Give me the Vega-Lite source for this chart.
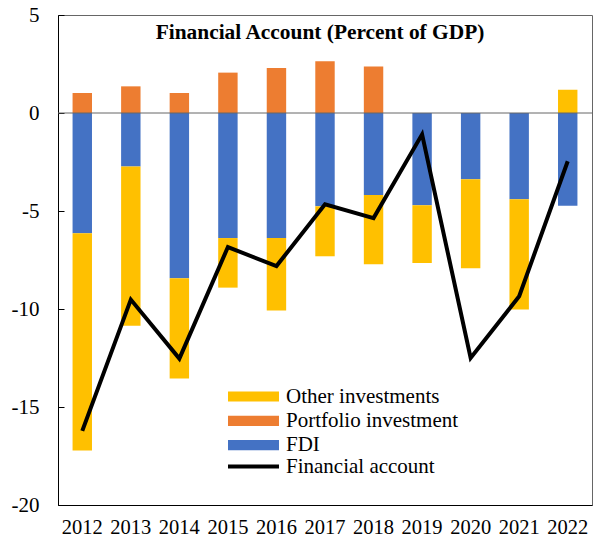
{
  "$schema": "https://vega.github.io/schema/vega-lite/v6.json",
  "width": 534,
  "height": 490,
  "autosize": "none",
  "padding": {"left": 58, "top": 15, "right": 3, "bottom": 41},
  "background": "white",
  "title": {
    "text": "Financial Account (Percent of GDP)",
    "font": "Liberation Serif",
    "fontSize": 21.4,
    "fontWeight": "bold",
    "color": "black",
    "anchor": "middle",
    "baseline": "top",
    "offset": -39,
    "dx": -5
  },
  "config": {
    "view": {"stroke": "#666666", "strokeWidth": 1},
    "font": "Liberation Serif"
  },
  "datasets": {
    "bars": [
      {"year": "2012", "series": "FDI", "value": -6.14},
      {"year": "2013", "series": "FDI", "value": -2.73},
      {"year": "2014", "series": "FDI", "value": -8.43},
      {"year": "2015", "series": "FDI", "value": -6.38},
      {"year": "2016", "series": "FDI", "value": -6.38},
      {"year": "2017", "series": "FDI", "value": -4.76},
      {"year": "2018", "series": "FDI", "value": -4.18},
      {"year": "2019", "series": "FDI", "value": -4.71},
      {"year": "2020", "series": "FDI", "value": -3.38},
      {"year": "2021", "series": "FDI", "value": -4.40},
      {"year": "2022", "series": "FDI", "value": -4.73},
      {"year": "2012", "series": "Portfolio investment", "value": 1.02},
      {"year": "2013", "series": "Portfolio investment", "value": 1.36},
      {"year": "2014", "series": "Portfolio investment", "value": 1.02},
      {"year": "2015", "series": "Portfolio investment", "value": 2.06},
      {"year": "2016", "series": "Portfolio investment", "value": 2.30},
      {"year": "2017", "series": "Portfolio investment", "value": 2.64},
      {"year": "2018", "series": "Portfolio investment", "value": 2.37},
      {"year": "2019", "series": "Portfolio investment", "value": 0},
      {"year": "2020", "series": "Portfolio investment", "value": 0},
      {"year": "2021", "series": "Portfolio investment", "value": 0},
      {"year": "2022", "series": "Portfolio investment", "value": 0},
      {"year": "2012", "series": "Other investments", "value": -11.08},
      {"year": "2013", "series": "Other investments", "value": -8.12},
      {"year": "2014", "series": "Other investments", "value": -5.11},
      {"year": "2015", "series": "Other investments", "value": -2.53},
      {"year": "2016", "series": "Other investments", "value": -3.70},
      {"year": "2017", "series": "Other investments", "value": -2.55},
      {"year": "2018", "series": "Other investments", "value": -3.54},
      {"year": "2019", "series": "Other investments", "value": -2.94},
      {"year": "2020", "series": "Other investments", "value": -4.54},
      {"year": "2021", "series": "Other investments", "value": -5.62},
      {"year": "2022", "series": "Other investments", "value": 1.19}
    ],
    "line": [
      {"year": "2012", "series": "Financial account", "value": -16.22},
      {"year": "2013", "series": "Financial account", "value": -9.52},
      {"year": "2014", "series": "Financial account", "value": -12.53},
      {"year": "2015", "series": "Financial account", "value": -6.84},
      {"year": "2016", "series": "Financial account", "value": -7.81},
      {"year": "2017", "series": "Financial account", "value": -4.66},
      {"year": "2018", "series": "Financial account", "value": -5.36},
      {"year": "2019", "series": "Financial account", "value": -1.09},
      {"year": "2020", "series": "Financial account", "value": -12.50},
      {"year": "2021", "series": "Financial account", "value": -9.35},
      {"year": "2022", "series": "Financial account", "value": -2.46}
    ]
  },
  "layer": [
    {
      "data": {"name": "bars"},
      "mark": {"type": "bar"},
      "encoding": {
        "x": {
          "field": "year",
          "type": "nominal",
          "scale": {"paddingInner": 0.6, "paddingOuter": 0.3},
          "axis": {
            "title": null,
            "labelAngle": 0,
            "ticks": false,
            "domainColor": "black",
            "labelFont": "Liberation Serif",
            "labelFontSize": 20.5,
            "labelColor": "black",
            "labelPadding": 12
          }
        },
        "y": {
          "field": "value",
          "type": "quantitative",
          "stack": "zero",
          "scale": {"domain": [-20, 5], "nice": false},
          "axis": {
            "title": null,
            "values": [-20, -15, -10, -5, 0, 5],
            "labelExpr": "'' + datum.value",
            "grid": false,
            "tickSize": -6,
            "tickColor": "black",
            "domainColor": "black",
            "labelFont": "Liberation Serif",
            "labelFontSize": 21,
            "labelColor": "black",
            "labelPadding": 25
          }
        },
        "fill": {
          "field": "series",
          "type": "nominal",
          "scale": {
            "domain": ["Other investments", "Portfolio investment", "FDI"],
            "range": ["#FFC000", "#ED7D31", "#4472C4"]
          },
          "legend": {
            "title": null,
            "orient": "none",
            "legendX": 185,
            "legendY": 371,
            "symbolType": "M-5,-1H5V1H-5Z",
            "symbolSize": 104,
            "symbolStrokeWidth": 0,
            "labelFont": "Liberation Serif",
            "labelFontSize": 21,
            "labelColor": "black",
            "labelOffset": 22,
            "labelLimit": 400,
            "rowPadding": 2.3
          }
        },
        "order": {"field": "series", "sort": "ascending"}
      }
    },
    {
      "data": {"values": [{"z": 0}]},
      "mark": {"type": "rule", "color": "#666666", "strokeWidth": 1},
      "encoding": {"y": {"field": "z", "type": "quantitative"}}
    },
    {
      "data": {"name": "line"},
      "mark": {"type": "line", "strokeWidth": 4},
      "encoding": {
        "x": {"field": "year", "type": "nominal"},
        "y": {"field": "value", "type": "quantitative"},
        "stroke": {
          "field": "series",
          "type": "nominal",
          "scale": {"domain": ["Financial account"], "range": ["black"]},
          "legend": {
            "title": null,
            "orient": "none",
            "legendX": 185,
            "legendY": 441,
            "symbolType": "M-5,0H5",
            "symbolSize": 104,
            "symbolStrokeWidth": 4,
            "labelFont": "Liberation Serif",
            "labelFontSize": 21,
            "labelColor": "black",
            "labelOffset": 22,
            "labelLimit": 400
          }
        }
      }
    }
  ]
}
